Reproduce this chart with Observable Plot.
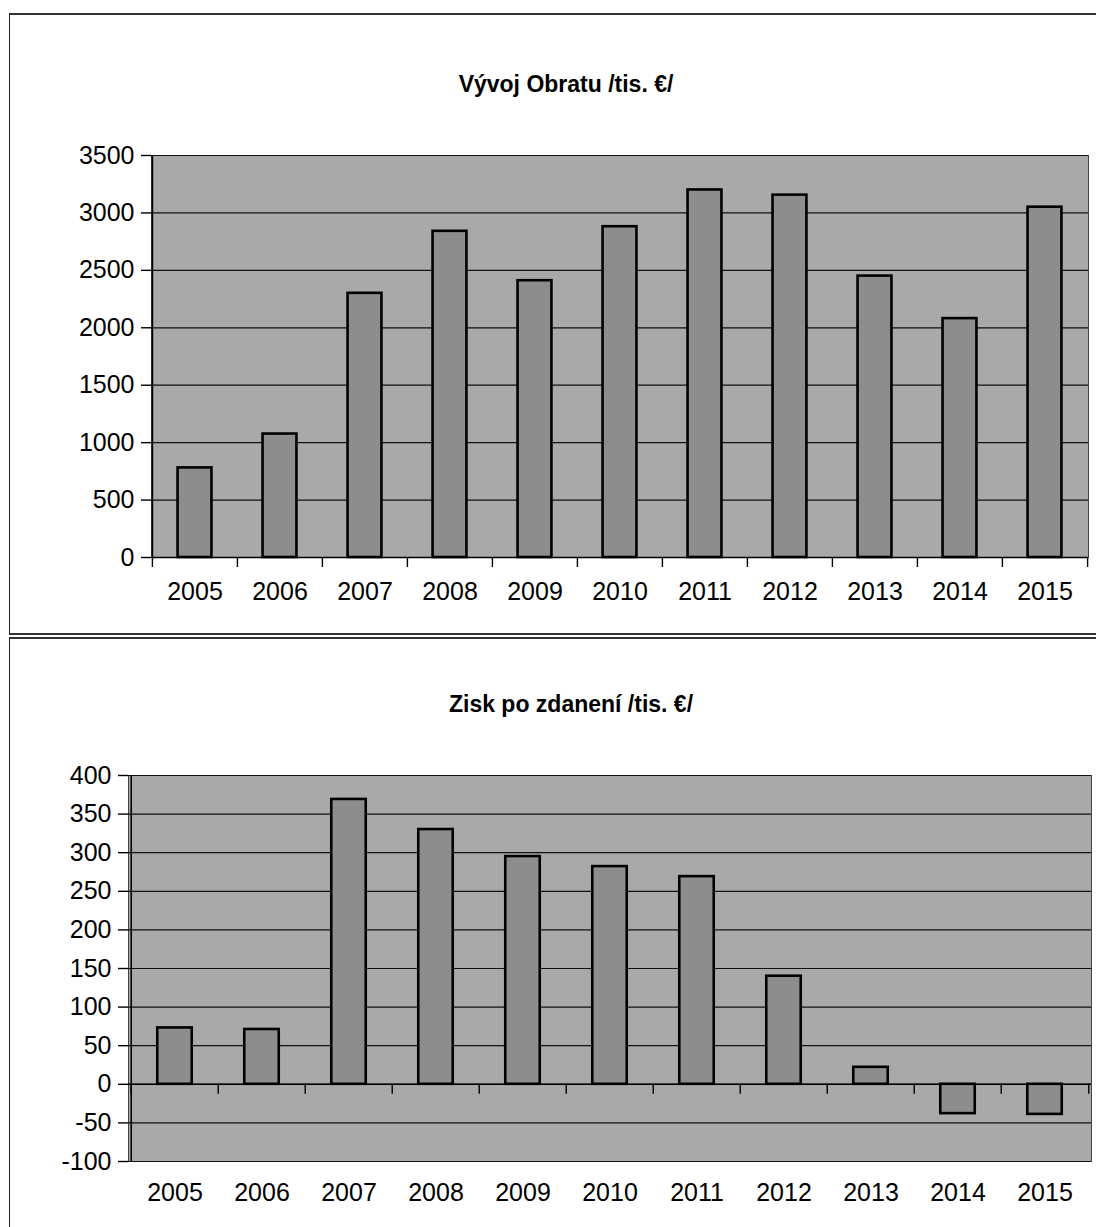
<!DOCTYPE html>
<html>
<head>
<meta charset="utf-8">
<script src="https://cdn.jsdelivr.net/npm/d3@7"></script>
<script src="https://cdn.jsdelivr.net/npm/@observablehq/plot@0.6"></script>
<style>
  body { margin: 0; background: #fff; }
  #page { position: relative; width: 1096px; height: 1227px; overflow: hidden;
          font-family: "Liberation Sans", Arial, sans-serif; color: #000; }
  .panel { position: absolute; box-sizing: border-box; }
  .title { position: absolute; font-weight: bold; font-size: 23px; line-height: 23px;
           white-space: nowrap; transform: translateX(-50%); }
  .chart { position: absolute; left: 0; }
</style>
</head>
<body>
<div id="page">
  <div class="panel" style="left:9px;top:13px;width:1087px;height:622px;border-top:2px solid #333;border-left:1.5px solid #222;border-bottom:2px solid #333;"></div>
  <div class="panel" style="left:9px;top:637px;width:1087px;height:600px;border-top:2px solid #333;border-left:1.5px solid #222;"></div>
  <div class="title" style="left:566px;top:73px;">Vývoj Obratu /tis. €/</div>
  <div class="title" style="left:571px;top:693px;">Zisk po zdanení /tis. €/</div>
  <div class="chart" id="c1" style="top:0px;"></div>
  <div class="chart" id="c2" style="top:637px;"></div>
</div>
<script>
const years = ["2005","2006","2007","2008","2009","2010","2011","2012","2013","2014","2015"];
const obrat = [780, 1075, 2300, 2840, 2410, 2880, 3200, 3155, 2450, 2080, 3050];
const zisk  = [73, 71, 369, 330, 295, 282, 269, 140, 22, -38, -39];
const obratTicks = [0, 500, 1000, 1500, 2000, 2500, 3000, 3500];
const ziskTicks  = [-100, -50, 0, 50, 100, 150, 200, 250, 300, 350, 400];

function makeChart({values, ticks, width, height, ml, mr, mt, mb, labelPad}) {
  const data = years.map((year, i) => ({year, value: values[i]}));
  const yMin = ticks[0], yMax = ticks[ticks.length - 1];
  const bw = (width - ml - mr) / years.length;
  const pxPerUnit = (height - mt - mb) / (yMax - yMin);
  const tickLen = 10 / pxPerUnit;
  return Plot.plot({
    width, height,
    marginLeft: ml, marginRight: mr, marginTop: mt, marginBottom: mb,
    style: {fontFamily: "'Liberation Sans', Arial, sans-serif", fontSize: "25px", color: "#000", background: "transparent"},
    x: {type: "band", domain: years, padding: 0, axis: null},
    y: {domain: [yMin, yMax], axis: null},
    marks: [
      Plot.frame({fill: "#a9a9a9", stroke: "#444", strokeWidth: 1}),
      Plot.ruleY(ticks, {stroke: "#111", strokeWidth: 1.2}),
      Plot.barY(data, {x: "year", y: "value", fill: "#8d8d8d", stroke: "#000", strokeWidth: 2.6,
                       insetLeft: bw * 0.3, insetRight: bw * 0.3}),
      // left axis line
      Plot.ruleX([years[0]], {x: d => d, dx: -bw / 2, stroke: "#000", strokeWidth: 1.6}),
      // category boundary ticks at zero line
      Plot.ruleX(years, {x: d => d, y1: 0, y2: -tickLen, dx: -bw / 2, stroke: "#000", strokeWidth: 1.4}),
      Plot.ruleX([years[years.length - 1]], {x: d => d, y1: 0, y2: -tickLen, dx: bw / 2, stroke: "#000", strokeWidth: 1.4}),
      Plot.ruleY([0], {stroke: "#000", strokeWidth: 1.4}),
      Plot.axisY({ticks, tickSize: 10, tickPadding: 7, fontSize: 25, tickFormat: d => String(d), label: null, strokeWidth: 1.4}),
      Plot.axisX({tickSize: 0, tickPadding: labelPad, fontSize: 25, label: null})
    ]
  });
}

document.getElementById("c1").appendChild(makeChart({
  values: obrat, ticks: obratTicks, width: 1096, height: 634,
  ml: 151, mr: 8, mt: 155, mb: 77, labelPad: 25
}));
document.getElementById("c2").appendChild(makeChart({
  values: zisk, ticks: ziskTicks, width: 1096, height: 590,
  ml: 128, mr: 5, mt: 138, mb: 66, labelPad: 22
}));
</script>
</body>
</html>
